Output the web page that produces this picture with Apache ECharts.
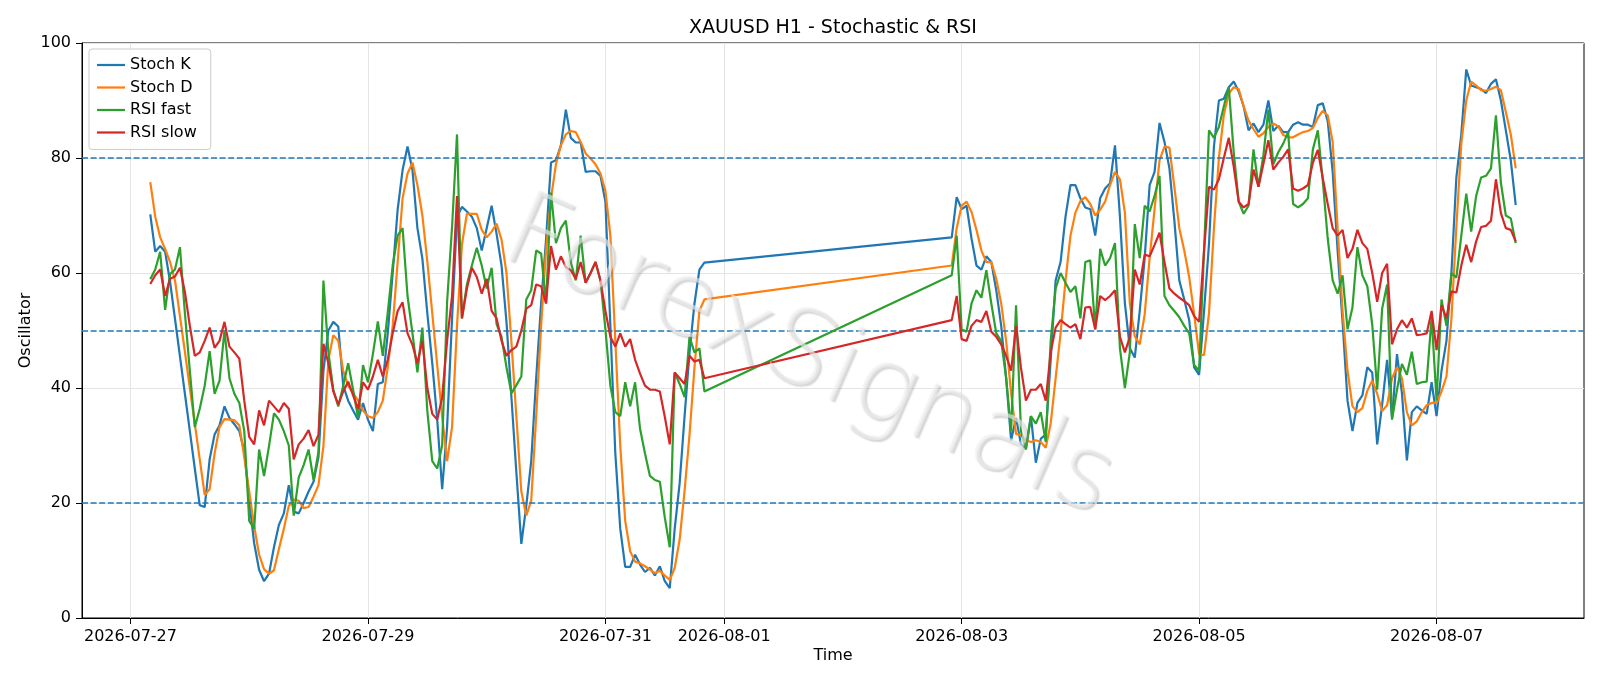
<!DOCTYPE html>
<html><head><meta charset="utf-8">
<script src="https://cdn.jsdelivr.net/npm/echarts@6/dist/echarts.min.js"></script>
<style>html,body{margin:0;padding:0;background:#fff}#c{width:1600px;height:686px}</style>
</head><body><div id="c"></div>
<script>
// ---- data ----
const titleText = 'XAUUSD H1 - Stochastic & RSI';
const seriesNames = ['Stoch K', 'Stoch D', 'RSI fast', 'RSI slow'];
const seg1Start = '2026-07-27T04:00:00Z';   // hourly bars until Fri 2026-07-31 20:00
const seg2Start = '2026-08-02T22:00:00Z';   // hourly bars until 2026-08-07 16:00
const xTickLabels = ['2026-07-27', '2026-07-29', '2026-07-31', '2026-08-01', '2026-08-03', '2026-08-05', '2026-08-07'];
const yTickValues = [0, 20, 40, 60, 80, 100];
const refLevels = [20, 50, 80];

const kSeg1 = [70.2, 63.7, 64.7, 63.7, 58.5, 52, 45.5, 39, 32.5, 26,
 19.6, 19.3, 27.6, 31.9, 33.5, 36.8, 34.8, 33.7, 32.5, 29,
 20.5, 13, 8.4, 6.4, 7.7, 12.3, 16.2, 18.2, 23.1, 18.5,
 18.2, 20, 22, 23.7, 28, 43, 50, 51.5, 50.7, 40.4,
 37.8, 36.1, 34.5, 37.4, 34.5, 32.5, 40.7, 41, 49.5, 60,
 71, 77.9, 82, 77.9, 67.8, 62.5, 53, 44.3, 34.5, 22.4,
 33.2, 52.1, 69.8, 71.5, 70.7, 69.8, 67.8, 63.9, 67.8, 71.7,
 66.8, 61.3, 51.5, 38.4, 25.3, 12.9, 19.5, 27.3, 41.7, 54.7,
 65.8, 79.2, 79.6, 82.2, 88.4, 83.5, 82.7, 82.7, 77.6, 77.7,
 77.7, 76.9, 72.4, 50.8, 28.6, 15.5, 8.9, 8.9, 11, 9.3,
 8, 8.7, 7.4, 9, 6.4, 5.2, 15.5, 23.4, 35.1, 46.2,
 54.7, 60.6, 61.8];
const dSeg1 = [75.8, 69.8, 66.2, 64.2, 61.9, 58.7, 52.5, 46.3, 40, 33.8,
 27.6, 21.4, 22.4, 28.6, 33.2, 34.6, 34.5, 34.4, 33.5, 28,
 22, 16, 11, 8.5, 7.7, 8.3, 12, 15.5, 19.5, 20.6,
 20.4, 19.1, 19.3, 21.1, 23.1, 29.9, 44.9, 49.2, 48.2, 43,
 40.4, 39.1, 37.8, 36.1, 35.1, 34.8, 35.8, 37.8, 43.6, 50.8,
 61.9, 73, 77.3, 79.2, 75.3, 70, 62, 53, 44, 35,
 27.3, 33.2, 50.8, 65, 70.3, 70.3, 70.3, 67.5, 66.2, 67.2,
 68.6, 65.8, 60, 48, 35, 22, 17.8, 20.4, 35, 50.8,
 64, 73, 78.9, 82.2, 84.1, 84.7, 84.5, 82.8, 80.8, 79.9,
 78.9, 77.3, 74.3, 66.5, 48.2, 29.9, 16.9, 11.6, 9.8, 9.5,
 9, 8.4, 7.8, 8.2, 7.4, 6.6, 8.7, 13.6, 22.1, 31.9,
 43.6, 53.4, 55.4];
const fastSeg1 = [58.9, 60.6, 63.7, 53.6, 59.8, 60.6, 64.5, 53, 43, 33.2,
 36.4, 40.4, 46.4, 39, 41.3, 50, 41.7, 39, 37.4, 32.5,
 16.9, 15.5, 29.3, 24.7, 29.9, 35.6, 34.5, 32.5, 30, 17.8,
 24.4, 26.6, 29.3, 24, 28.9, 58.7, 46.2, 39.7, 36.8, 40.4,
 44.3, 39.7, 34.8, 44, 41, 45.9, 51.6, 45.6, 53.1, 61.3,
 66.5, 67.8, 56, 49.5, 42.7, 50.5, 36, 27.3, 26, 30,
 55, 68, 84.1, 52.1, 58, 61.3, 64.4, 61.3, 57.3, 60.9,
 51.1, 48.9, 43.6, 39.1, 40.5, 42, 55.4, 57, 63.9, 63.4,
 54.7, 74, 65.2, 67.8, 69.1, 61.9, 58.7, 66.5, 58.3, 60,
 61.9, 58.7, 50.2, 40.4, 35.8, 35.1, 41, 36.8, 41, 32.9,
 28.6, 24.7, 24, 23.7, 17.5, 12.3, 42.7, 40.7, 38.4, 48.9,
 46.2, 46.9, 39.4];
const slowSeg1 = [58.1, 59.6, 60.6, 56, 59, 59.4, 60.9, 56.7, 50.8, 45.6,
 46.2, 48.2, 50.5, 47, 48.2, 51.5, 47.2, 46.2, 45.1, 37.8,
 31.5, 30.2, 36.1, 33.5, 37.8, 36.8, 35.8, 37.4, 36.4, 27.6,
 30.2, 31.2, 32.7, 29.9, 31.9, 47.7, 44.3, 39.4, 37.1, 39.4,
 41.1, 38.7, 36.4, 41, 39.7, 42, 44.9, 42, 44.9, 49.5,
 53.4, 54.9, 49.5, 47.5, 44.3, 48.2, 40, 35.5, 34.5, 38.4,
 48.2, 56, 73.4, 52.1, 57.3, 60.9, 59.3, 56.4, 59, 53.4,
 52.1, 48.2, 45.6, 46.6, 47.2, 50, 53.8, 54.4, 58, 57.7,
 54.7, 64.7, 60.6, 62.9, 61, 60.5, 59, 61.9, 58.3, 60,
 61.9, 58.7, 53.4, 48.9, 47.2, 49.5, 47.2, 48.5, 44.9, 42.5,
 40.4, 39.7, 39.7, 39.4, 35, 30.2, 42.7, 41.7, 40.7, 45.6,
 44.6, 44.9, 41.7];

const kSeg2 = [66.2, 73.2, 71.1, 71.7, 66, 61.3, 60.6, 62.9, 61.9, 57,
 50.8, 41.7, 30.9, 34.8, 30.2, 29.6, 35.1, 27, 31.2, 31.9,
 44.9, 58.7, 61.9, 69.8, 75.3, 75.3, 73, 71.4, 71.1, 66.5,
 73, 74.7, 75.6, 82.2, 69.8, 54.7, 46.9, 45.3, 53.4, 62.6,
 75.3, 77.6, 86.1, 82.8, 78.2, 69.1, 58.7, 55.4, 51.8, 43.6,
 42.3, 53.4, 65, 82, 90, 90.3, 92.3, 93.3, 91.6, 89,
 84.8, 86, 84.5, 85.8, 90, 84.7, 85.6, 84.5, 84.5, 85.8,
 86.2, 85.8, 85.8, 85.4, 89.2, 89.5, 86.4, 77.6, 63.9, 51.5,
 37.8, 32.5, 37.4, 38.7, 43.6, 42.7, 30.2, 37.1, 44.9, 34.8,
 45.9, 39.1, 27.4, 35.8, 36.8, 36.1, 35.5, 41, 35.1, 43,
 48.2, 60, 76.6, 84.1, 95.4, 92.6, 92.3, 92, 91.3, 92.9,
 93.7, 90, 84.8, 79.6, 71.8];
const dSeg2 = [61.3, 67.8, 71.7, 72.4, 70.6, 67.5, 63.9, 61.9, 61.9, 59,
 54.7, 48.2, 39.1, 32, 31.8, 30.9, 30.6, 30.9, 30.6, 29.6,
 33.8, 41.7, 49.5, 58.7, 66.5, 70.5, 72.5, 73.2, 72, 70,
 71, 72.4, 75.3, 77.6, 76.3, 70.5, 54.7, 49, 47.6, 52.8,
 62.6, 71.1, 79.6, 82, 81.8, 75, 67.8, 63.9, 59.3, 52.8,
 45.9, 45.7, 53, 67.8, 80, 87.5, 91.2, 92.3, 92, 89,
 86.5, 85, 83.7, 84.3, 85.4, 86, 85.5, 84, 83.6, 83.6,
 84.1, 84.5, 84.7, 85.2, 87, 88.2, 87.4, 82.8, 67.8, 53.4,
 43, 36.8, 35.8, 36.5, 39.5, 41.3, 39, 36, 37, 41.7,
 43.6, 41.7, 35.8, 33.5, 34.2, 35.8, 37, 37.4, 37.4, 39.4,
 42, 52, 68, 82.5, 90, 93.3, 92.6, 91.8, 91.7, 92,
 92.4, 91.8, 88, 84.1, 78.2];
const fastSeg2 = [59.6, 66.5, 50.2, 49.8, 54.7, 57, 55.7, 60.5, 54.7, 49.5,
 48.2, 41.7, 32.5, 54.4, 32.5, 29.3, 35.1, 33.8, 35.8, 30.6,
 48.2, 57.3, 60, 58.3, 56.7, 57.7, 52.1, 61.9, 62.2, 50.2,
 64.2, 61.3, 62.6, 65.2, 46.9, 40, 46.2, 68.5, 62.6, 71.7,
 70.7, 73.4, 76.9, 56, 54.4, 53.4, 52.3, 50.8, 49.5, 44,
 43, 63.9, 84.8, 83.5, 85.4, 89, 92.3, 81, 72.4, 70.3,
 71.7, 81.5, 75, 80.5, 88.4, 78.9, 81, 82.5, 84.5, 72,
 71.4, 72, 73, 81.5, 84.8, 76, 66, 58.7, 56.4, 59.6,
 50.2, 54, 64.5, 59.6, 57.7, 51, 39.7, 53.8, 58, 34.5,
 39.7, 44.2, 42.3, 46.3, 40.7, 41, 41.1, 52.3, 37.8, 55.4,
 50.8, 60, 59.2, 66.5, 73.8, 67.2, 73.4, 76.6, 76.9, 78.2,
 87.4, 75.7, 70, 69.5, 65.2];
const slowSeg2 = [51.8, 56, 48.5, 48.2, 50.8, 51.8, 51.5, 53.4, 49.8, 48.9,
 47.6, 45.6, 43, 50.8, 43.5, 37.8, 39.7, 39.7, 40.7, 37.8,
 46.2, 50.5, 51.8, 51.1, 50.5, 51.1, 48.5, 54, 54.1, 50.2,
 56, 55.3, 56, 57, 48.9, 46.2, 48.9, 60.6, 58, 63.2,
 62.9, 64.9, 67, 61.9, 57.3, 56.4, 55.7, 55.1, 54.4, 52.5,
 51.5, 63.9, 75, 74.5, 76.3, 80, 83.5, 78.5, 72.4, 71.4,
 72, 78, 75, 79, 83.1, 78, 79.2, 80.2, 81.5, 74.7,
 74.3, 74.7, 75.3, 79.2, 81.4, 76.5, 72, 67.8, 66.5, 67.5,
 62.6, 64.2, 67.5, 65.2, 64.2, 60, 55, 60, 61.6, 47.6,
 50.2, 51.8, 50.5, 52.1, 49.2, 49.3, 49.5, 53.4, 46.6, 54.4,
 52.1, 56.8, 56.6, 61.3, 64.9, 61.9, 65.5, 68, 68.2, 69.1,
 76.3, 70.4, 67.8, 67.5, 65.5];

// ---- build ----
const HOUR = 3600e3;
function hourly(start, vals) {
  const t0 = Date.parse(start);
  return vals.map((v, i) => [t0 + i * HOUR, v]);
}
const seriesData = [
  hourly(seg1Start, kSeg1).concat(hourly(seg2Start, kSeg2)),
  hourly(seg1Start, dSeg1).concat(hourly(seg2Start, dSeg2)),
  hourly(seg1Start, fastSeg1).concat(hourly(seg2Start, fastSeg2)),
  hourly(seg1Start, slowSeg1).concat(hourly(seg2Start, slowSeg2))
];
const colors = ['#1f77b4', '#ff7f0e', '#2ca02c', '#d62728'];
const xTickTimes = xTickLabels.map(s => Date.parse(s + 'T00:00:00Z'));
const xMin = Date.parse(seg1Start) - 13.8 * HOUR;
const xMax = Date.parse('2026-08-07T16:00:00Z') + 13.8 * HOUR;
const FONT = '"DejaVu Sans", sans-serif';
function pad(n) { return (n < 10 ? '0' : '') + n; }
function fmtDate(v) {
  const d = new Date(v);
  return d.getUTCFullYear() + '-' + pad(d.getUTCMonth() + 1) + '-' + pad(d.getUTCDate());
}

const series = seriesData.map((data, i) => ({
  name: seriesNames[i],
  type: 'line',
  data: data,
  symbol: 'none',
  showSymbol: false,
  color: colors[i],
  lineStyle: { color: colors[i], width: 2.2 },
  z: 3 + i,
  silent: true
}));
series[3].markLine = {
  silent: true,
  symbol: ['none', 'none'],
  label: { show: false },
  lineStyle: { color: '#1f77b4', type: [6, 2.6], width: 1.5 },
  data: refLevels.map(v => ({ yAxis: v }))
};

const chart = echarts.init(document.getElementById('c'), null, { renderer: 'canvas' });
chart.setOption({
  animation: false,
  backgroundColor: '#ffffff',
  title: {
    text: titleText, left: 689, top: 19, padding: 0,
    textStyle: { fontFamily: FONT, fontSize: 19, fontWeight: 'normal', color: '#000' }
  },
  grid: { left: 82, right: 16, top: 43, bottom: 68, show: true, borderColor: '#000', borderWidth: 1, backgroundColor: 'transparent' },
  legend: {
    data: seriesNames,
    orient: 'vertical', left: 89, top: 49,
    icon: 'path://M0,0 H100 V8 H0 Z',
    itemWidth: 28, itemHeight: 14, itemGap: 6.5,
    padding: [8, 14, 9, 8],
    backgroundColor: 'rgba(255,255,255,0.85)',
    borderColor: '#cccccc', borderWidth: 1, borderRadius: 3,
    textStyle: { fontFamily: FONT, fontSize: 16, color: '#000' }
  },
  xAxis: {
    type: 'value', min: xMin, max: xMax,
    name: 'Time', nameLocation: 'middle', nameGap: 30, nameMoveOverlap: false,
    nameTextStyle: { fontFamily: FONT, fontSize: 16, color: '#000' },
    axisLine: { show: true, onZero: false, lineStyle: { color: '#000', width: 1 } },
    axisTick: { show: true, length: 6, inside: false, lineStyle: { color: '#000' }, customValues: xTickTimes },
    axisLabel: { customValues: xTickTimes, formatter: fmtDate, fontFamily: FONT, fontSize: 16, color: '#000', margin: 11, hideOverlap: false },
    splitLine: { show: true, lineStyle: { color: '#e4e4e4', width: 1 } }
  },
  yAxis: {
    type: 'value', min: 0, max: 100, interval: 20,
    name: 'Oscillator', nameLocation: 'middle', nameGap: 48, nameRotate: 90, nameMoveOverlap: false,
    nameTextStyle: { fontFamily: FONT, fontSize: 16, color: '#000' },
    axisLine: { show: true, lineStyle: { color: '#000', width: 1 } },
    axisTick: { show: true, length: 6, inside: false, lineStyle: { color: '#000' } },
    axisLabel: { fontFamily: FONT, fontSize: 16, color: '#000', margin: 11 },
    splitLine: { show: true, lineStyle: { color: '#e4e4e4', width: 1 } }
  },
  graphic: [{
    type: 'text', x: 808, y: 360, rotation: -0.41, z: 100, silent: true,
    style: {
      text: 'ForexSignals',
      font: '200 104px "DejaVu Sans ExtraLight", "DejaVu Sans", sans-serif',
      fill: 'rgba(238,238,238,0.6)',
      align: 'center', verticalAlign: 'middle',
      textShadowColor: 'rgba(140,140,140,0.6)', textShadowBlur: 1.5,
      textShadowOffsetX: 2, textShadowOffsetY: 2
    }
  }],
  series: series
});
</script>
</body></html>
